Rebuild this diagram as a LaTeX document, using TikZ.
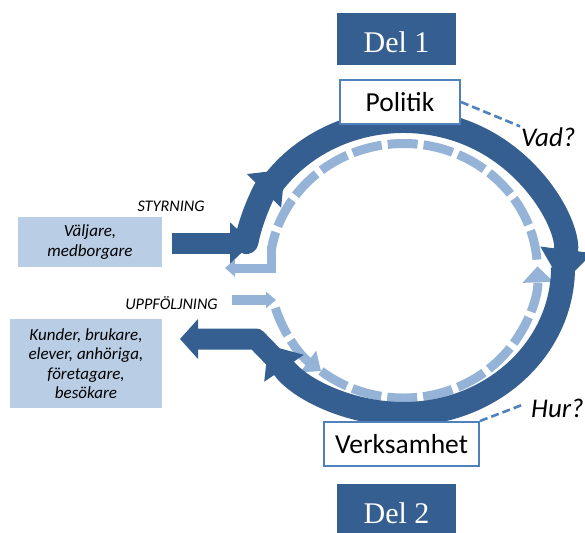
\documentclass[tikz,border=0pt]{standalone}
\usepackage{fontspec}
\setmainfont{Carlito}
\newfontfamily\delfont{Liberation Serif}
\usetikzlibrary{arrows.meta}
\definecolor{cDark}{HTML}{365F91}
\definecolor{cLight}{HTML}{95B3D7}
\definecolor{cBox}{HTML}{B9CDE5}
\definecolor{cEdge}{HTML}{4F81BD}
\begin{document}
\begin{tikzpicture}[x=1pt,y=-1pt,
  darkline/.style={draw=cDark, line width=24pt},
  lightline/.style={draw=cLight, line width=9pt},
  dashring/.style={lightline, dash pattern=on 30pt off 6pt},
  lbox/.style={fill=cBox, align=center, inner sep=0pt, font=\fontsize{17}{19.5}\selectfont\itshape},
  wbox/.style={draw=cEdge, line width=2pt, fill=white, inner sep=0pt, minimum height=44pt, font=\fontsize{27.5}{32}\selectfont},
  delbox/.style={fill=cDark, text=white, inner sep=0pt, minimum width=119pt, minimum height=52pt, text height=27pt, text depth=0pt, font=\delfont\fontsize{30}{36}\selectfont},
  lab/.style={inner sep=0pt, font=\fontsize{16.2}{18}\selectfont\itshape},
  qlab/.style={inner sep=1pt, font=\fontsize{27}{30}\selectfont\itshape},
  conn/.style={draw=cEdge, line width=2.6pt, dash pattern=on 8pt off 4pt}
]
\useasboundingbox (0,0) rectangle (585,532);

% ---------- light (follow-up) loop ----------
\coordinate (uStart) at (232,300);
\coordinate (uEnd) at (276,300);
\draw[lightline, line width=10pt, -{Triangle[length=10pt,width=16pt]}] (uStart) -- (uEnd);
\begin{scope}[shift={(403.5,270.75)}]
  \draw[dashring, -{Triangle[length=16pt,width=26pt]}]
    (163:134 and 127.25) arc[start angle=163, end angle=128, x radius=134, y radius=127.25];
  \draw[dashring, -{Triangle[length=16pt,width=30pt]}]
    (128:134 and 127.25) arc[start angle=128, end angle=-2, x radius=134, y radius=127.25];
  \draw[dashring]
    (-5:134 and 127.25) arc[start angle=-5, end angle=-170, x radius=134, y radius=127.25];
\end{scope}
\coordinate (lBendA) at (271.5,246);
\coordinate (lBendB) at (271.5,268);
\coordinate (lOut) at (225,268);
\draw[lightline, -{Triangle[length=10pt,width=17pt]}] (lBendA) -- (lBendB) -- (lOut);

% ---------- dark (steering) loop ----------
\coordinate (dIn) at (172,243);
\coordinate (dInEnd) at (252,243);
\draw[darkline, line width=21pt, -{Triangle[length=22pt,width=40pt]}] (dIn) -- (dInEnd);
\begin{scope}[shift={(403.5,267.5)}]
  \draw[darkline, line cap=round, -{Triangle[length=30pt,width=46pt]}]
    (190:159.5 and 146.5) arc[start angle=190, end angle=222, x radius=159.5, y radius=146.5];
  \draw[darkline, -{Triangle[length=35pt,width=50pt]}]
    (212:159.5 and 146.5) arc[start angle=212, end angle=366.7, x radius=159.5, y radius=146.5];
  \draw[darkline, -{Triangle[length=28pt,width=46pt]}]
    (0:159.5 and 146.5) arc[start angle=0, end angle=148, x radius=159.5, y radius=146.5];
\end{scope}
\coordinate (dOutA) at (290,374);
\coordinate (dOutB) at (256,339);
\coordinate (dOut) at (180,339);
\draw[darkline, line width=21pt, line join=round, -{Triangle[length=18pt,width=39pt]}] (dOutA) -- (dOutB) -- (dOut);

% ---------- boxes ----------
\node[lbox, minimum width=144pt, minimum height=50pt] (valj) at (90,242) {Väljare,\\medborgare};
\node[lbox, minimum width=152pt, minimum height=89pt] (kund) at (86,363.5) {Kunder, brukare,\\elever, anhöriga,\\företagare,\\besökare};
\node[lab] (styr) at (171,206) {STYRNING};
\node[lab] (uppf) at (171.5,303) {UPPFÖLJNING};

\node[delbox] (del1) at (396.5,39) {Del 1};
\node[delbox] (del2) at (396.5,510) {Del 2};

\node[wbox, minimum width=120pt] (pol) at (400,102) {Politik};
\node[wbox, minimum width=155pt] (verk) at (401.5,444) {Verksamhet};

\node[qlab, anchor=west] (vad) at (520,137) {Vad?};
\node[qlab, anchor=west] (hur) at (530,408) {Hur?};
\draw[conn] (pol.east) -- (vad.north west);
\draw[conn] (verk.north east) -- ([xshift=-8pt,yshift=3pt]hur.west);
\end{tikzpicture}
\end{document}
